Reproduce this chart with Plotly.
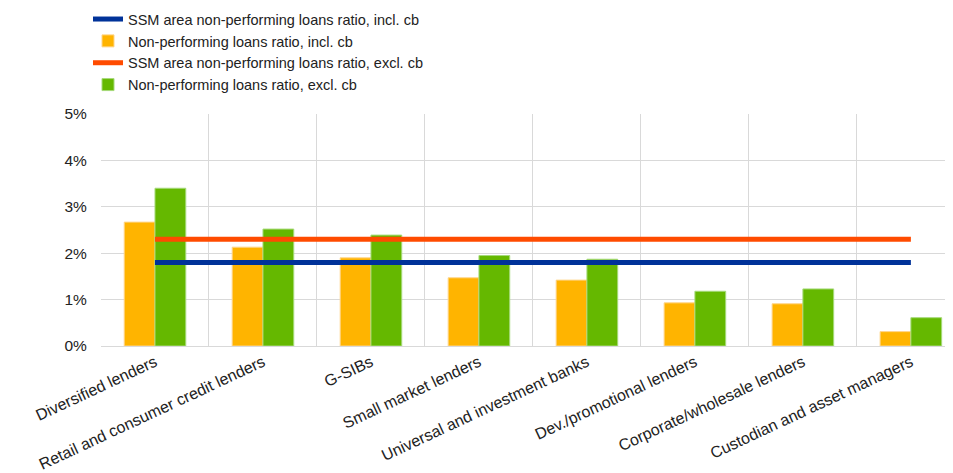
import plotly.graph_objects as go

categories = ["Diversified lenders", "Retail and consumer credit lenders", "G-SIBs",
              "Small market lenders", "Universal and investment banks",
              "Dev./promotional lenders", "Corporate/wholesale lenders",
              "Custodian and asset managers"]
npl_incl = [2.67, 2.13, 1.90, 1.47, 1.42, 0.93, 0.91, 0.31]
npl_excl = [3.40, 2.52, 2.39, 1.95, 1.87, 1.18, 1.23, 0.61]
ssm_incl = 1.8
ssm_excl = 2.3
y_ticks = [0, 1, 2, 3, 4, 5]
y_tick_labels = ["0%", "1%", "2%", "3%", "4%", "5%"]

fig = go.Figure()
fig.add_trace(go.Scatter(x=categories, y=[ssm_incl] * len(categories), mode="lines",
                         name="SSM area non-performing loans ratio, incl. cb",
                         line=dict(color="#003299", width=5)))
fig.add_trace(go.Bar(x=categories, y=npl_incl, name="Non-performing loans ratio, incl. cb",
                     marker=dict(color="#FFB400", line=dict(color="#FFD58A", width=1))))
fig.add_trace(go.Scatter(x=categories, y=[ssm_excl] * len(categories), mode="lines",
                         name="SSM area non-performing loans ratio, excl. cb",
                         line=dict(color="#FF4B00", width=5)))
fig.add_trace(go.Bar(x=categories, y=npl_excl, name="Non-performing loans ratio, excl. cb",
                     marker=dict(color="#65B800", line=dict(color="#A6DA7A", width=1))))

fig.update_layout(
    width=945, height=465,
    margin=dict(l=93, r=0, t=106, b=127, autoexpand=False),
    paper_bgcolor="white", plot_bgcolor="white",
    font=dict(family="Liberation Sans, Arial, sans-serif", size=14, color="#222222"),
    barmode="group", bargap=0.43, bargroupgap=0,
    showlegend=True,
    legend=dict(x=(80 - 93) / 852, xanchor="left", y=1.478, yanchor="top", itemwidth=30,
                font=dict(size=14.5), bgcolor="rgba(0,0,0,0)", tracegroupgap=0),
)
fig.update_xaxes(type="category", tickson="boundaries", showgrid=True, gridcolor="#D9D9D9",
                 gridwidth=1, tickangle=-25, tickfont=dict(size=16),
                 range=[-0.5, 7.39], showline=True, linecolor="#D9D9D9", ticks="",
                 automargin=False)
fig.update_yaxes(range=[0, 5], tickmode="array", tickvals=y_ticks, ticktext=y_tick_labels,
                 showgrid=True, gridcolor="#D9D9D9", gridwidth=1, tickfont=dict(size=15.5),
                 zeroline=False, ticks="outside", ticklen=10, tickcolor="white",
                 automargin=False)

fig.write_html("out.html")
